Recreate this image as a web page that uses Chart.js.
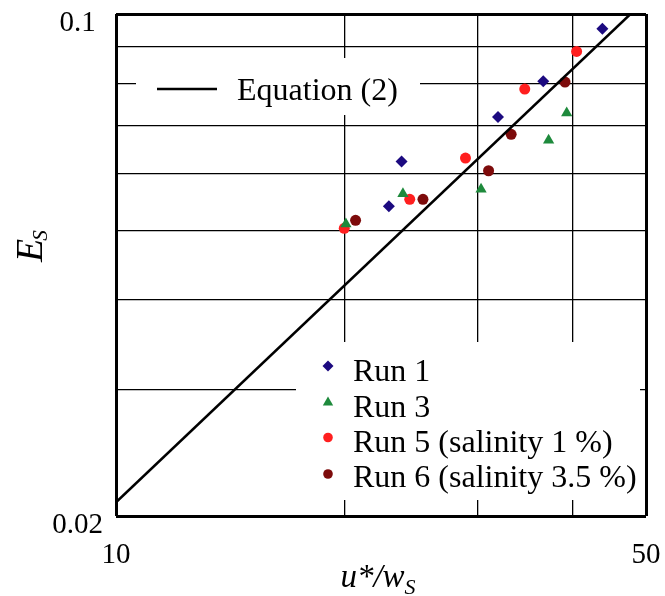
<!DOCTYPE html>
<html><head><meta charset="utf-8">
<script src="https://cdn.jsdelivr.net/npm/chart.js@4.4.0/dist/chart.umd.min.js"></script>
<style>html,body{margin:0;padding:0;background:#fff;}#wrap{width:665px;height:596px;}</style>
</head><body><div id="wrap"><canvas id="c" width="665" height="596"></canvas></div>
<script>
// ---- data ----
const xTicks = [10, 20, 30, 40, 50];
const yTicks = [0.02, 0.03, 0.04, 0.05, 0.06, 0.07, 0.08, 0.09, 0.1];
const xLabelShown = [10, 50];
const yLabelShown = [0.02, 0.1];

const xRun1 = [22.9, 23.8, 31.9, 36.6, 43.8];
const yRun1 = [0.0540, 0.0623, 0.0719, 0.0806, 0.0954];
const xRun3 = [20.1, 23.9, 30.3, 37.2, 39.3];
const yRun3 = [0.0510, 0.0562, 0.0570, 0.0667, 0.0728];
const xRun5 = [20.0, 24.4, 28.9, 34.6, 40.5];
const yRun5 = [0.0503, 0.0552, 0.0630, 0.0786, 0.0887];
const xRun6 = [20.7, 25.4, 31.0, 33.2, 39.1];
const yRun6 = [0.0516, 0.0552, 0.0605, 0.0680, 0.0804];
const xEq = [10, 47.7];
const yEq = [0.0209, 0.1];

const seriesNames = ['Run 1', 'Run 3', 'Run 5 (salinity 1 %)', 'Run 6 (salinity 3.5 %)'];
const eqName = 'Equation (2)';

const SERIF = "'Liberation Serif', 'Times New Roman', serif";
const pts = (xs, ys) => xs.map((x, i) => ({x: x, y: ys[i]}));

function drawMarker(ctx, style, r, x, y, color) {
  ctx.save();
  ctx.fillStyle = color;
  ctx.beginPath();
  if (style === 'rectRot') {
    ctx.moveTo(x - r, y); ctx.lineTo(x, y - r); ctx.lineTo(x + r, y); ctx.lineTo(x, y + r);
  } else if (style === 'triangle') {
    ctx.moveTo(x, y - r);
    ctx.lineTo(x + r * Math.sin(2 * Math.PI / 3), y - r * Math.cos(2 * Math.PI / 3));
    ctx.lineTo(x + r * Math.sin(4 * Math.PI / 3), y - r * Math.cos(4 * Math.PI / 3));
  } else {
    ctx.arc(x, y, r, 0, Math.PI * 2);
  }
  ctx.closePath();
  ctx.fill();
  ctx.restore();
}

const customPlugin = {
  id: 'customDecor',
  beforeDatasetsDraw(chart) {
    const ctx = chart.ctx;
    ctx.save();
    ctx.fillStyle = '#ffffff';
    ctx.fillRect(136, 58, 284, 57);
    ctx.fillRect(296, 342, 344, 158);
    ctx.restore();
  },
  afterDatasetsDraw(chart) {
    const ctx = chart.ctx;
    ctx.save();
    // Equation legend
    ctx.strokeStyle = '#000'; ctx.lineWidth = 2.5;
    ctx.beginPath(); ctx.moveTo(157, 89); ctx.lineTo(217, 89); ctx.stroke();
    ctx.fillStyle = '#000';
    ctx.font = '32px ' + SERIF;
    ctx.textBaseline = 'alphabetic'; ctx.textAlign = 'left';
    ctx.fillText(eqName, 237, 100);
    // Run legend
    const ds = chart.data.datasets;
    const my = [366, 402.5, 437.5, 474];
    const ty = [381, 416.5, 451.5, 487];
    const lr = [5.5, 6, 4.8, 4.8];
    ctx.font = '32px ' + SERIF;
    for (let i = 0; i < 4; i++) {
      const d = ds[i + 1];
      drawMarker(ctx, d.pointStyle, lr[i], 328, my[i], d.backgroundColor);
      ctx.fillStyle = '#000';
      ctx.fillText(d.label, 353, ty[i]);
    }
    ctx.restore();
  },
  afterDraw(chart) {
    const ctx = chart.ctx;
    ctx.save();
    ctx.fillStyle = '#000';
    ctx.textBaseline = 'alphabetic'; ctx.textAlign = 'left';
    // x-axis title u*/w_S
    ctx.font = 'italic 33px ' + SERIF;
    const main = 'u*/w';
    const wMain = ctx.measureText(main).width;
    ctx.font = 'italic 22px ' + SERIF;
    const wSub = ctx.measureText('S').width;
    const x0 = 378 - (wMain + wSub) / 2;
    ctx.font = 'italic 33px ' + SERIF;
    ctx.fillText(main, x0, 587);
    ctx.font = 'italic 22px ' + SERIF;
    ctx.fillText('S', x0 + wMain, 594);
    // y-axis title E_S
    ctx.translate(42, 262);
    ctx.rotate(-Math.PI / 2);
    ctx.font = 'italic 38px ' + SERIF;
    ctx.fillText('E', 0, 0);
    const wE = ctx.measureText('E').width;
    ctx.font = 'italic 21px ' + SERIF;
    ctx.fillText('S', wE - 2, 5);
    ctx.restore();
  }
};

const edgeW = (vals) => (c) => (c.tick && vals.includes(c.tick.value)) ? 3 : 1.3;

new Chart(document.getElementById('c'), {
  type: 'scatter',
  data: {
    datasets: [
      {label: eqName, data: pts(xEq, yEq), showLine: true, borderColor: '#000', borderWidth: 2.5,
       pointRadius: 0, pointHoverRadius: 0, backgroundColor: '#000'},
      {label: seriesNames[0], data: pts(xRun1, yRun1), pointStyle: 'rectRot', pointRadius: 6,
       backgroundColor: '#1c0a80', borderWidth: 0},
      {label: seriesNames[1], data: pts(xRun3, yRun3), pointStyle: 'triangle', pointRadius: 6.5,
       backgroundColor: '#1e8a3c', borderWidth: 0},
      {label: seriesNames[2], data: pts(xRun5, yRun5), pointStyle: 'circle', pointRadius: 5.5,
       backgroundColor: '#ff1f1f', borderWidth: 0},
      {label: seriesNames[3], data: pts(xRun6, yRun6), pointStyle: 'circle', pointRadius: 5.5,
       backgroundColor: '#7d0b0b', borderWidth: 0}
    ]
  },
  options: {
    responsive: false,
    animation: false,
    devicePixelRatio: 1,
    layout: {padding: {top: 14, right: 19, left: 0, bottom: 0}},
    plugins: {legend: {display: false}, tooltip: {enabled: false}},
    scales: {
      x: {
        type: 'logarithmic', min: 10, max: 50,
        afterBuildTicks: (s) => { s.ticks = xTicks.map(v => ({value: v})); },
        afterFit: (s) => { s.height = 80; s.paddingLeft = 0; s.paddingRight = 0; },
        grid: {color: '#000', lineWidth: edgeW([10, 50]), drawTicks: false},
        border: {display: false},
        ticks: {
          autoSkip: false, maxRotation: 0, padding: 22, color: '#000',
          font: {family: SERIF, size: 29},
          callback: (v) => xLabelShown.includes(v) ? String(v) : ''
        }
      },
      y: {
        type: 'logarithmic', min: 0.02, max: 0.1,
        afterBuildTicks: (s) => { s.ticks = yTicks.map(v => ({value: v})); },
        afterFit: (s) => { s.width = 116; s.paddingTop = 0; s.paddingBottom = 0; },
        grid: {color: '#000', lineWidth: edgeW([0.02, 0.1]), drawTicks: false},
        border: {display: false},
        ticks: {
          autoSkip: false, padding: 13, crossAlign: 'center', labelOffset: 9, color: '#000',
          font: {family: SERIF, size: 29},
          callback: (v) => yLabelShown.includes(v) ? String(v) : ''
        }
      }
    }
  },
  plugins: [customPlugin]
});
</script></body></html>
